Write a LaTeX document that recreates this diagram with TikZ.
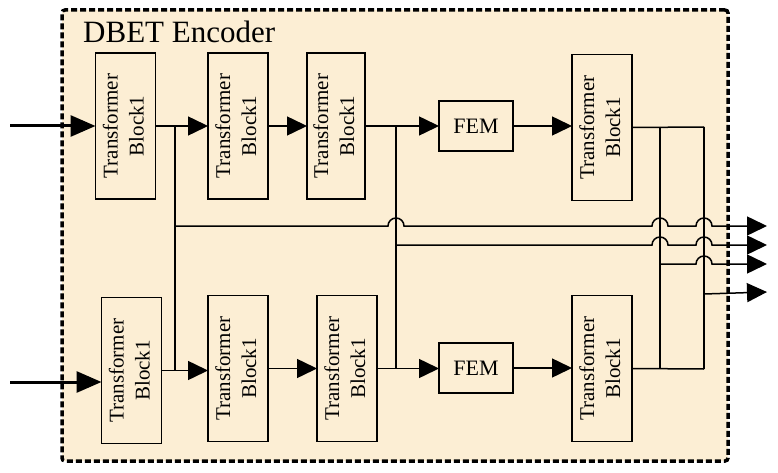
\documentclass[tikz,border=0pt]{standalone}
\usepackage{fontspec}
\setmainfont{Liberation Serif}
\usetikzlibrary{arrows.meta,calc}
\definecolor{bg}{RGB}{252,238,212}
\newcommand{\tbtext}{\rotatebox{90}{\begin{tabular}{@{}c@{}}Transformer\\Block1\end{tabular}}}
\begin{document}
\begin{tikzpicture}[x=1pt,y=-1pt,
 tblock/.style={draw,line width=1.5pt,minimum width=60pt,minimum height=146pt,inner sep=0pt,outer sep=0pt,font=\fontsize{21}{26}\selectfont},
 femblock/.style={draw,line width=2.4pt,minimum width=74pt,minimum height=50pt,inner sep=0pt,outer sep=0pt,font=\fontsize{22}{26}\selectfont},
 conn/.style={line width=1.5pt},
 arr/.style={conn,-{Triangle[length=20pt,width=19pt]}},
 inarr/.style={line width=3pt,-{Triangle[length=25pt,width=21pt]}},
 encbox/.style={draw,fill=bg,line width=3.5pt,dash pattern=on 6pt off 3pt,rounded corners=3pt,inner sep=0pt,outer sep=0pt}]
\useasboundingbox (0,0) rectangle (778,473);
\node[encbox,minimum width=666pt,minimum height=451pt] (enc) at (395,235.5) {};
\node[anchor=base west,font=\fontsize{31}{36}\selectfont,inner sep=0pt] (title) at (83,43) {DBET Encoder};
% top row
\node[tblock] (t1) at (125.5,126) {\tbtext};
\node[tblock] (t2) at (238,126) {\tbtext};
\node[tblock,minimum width=58pt] (t3) at (336,126) {\tbtext};
\node[femblock] (f1) at (476,126) {FEM};
\node[tblock] (t4) at (602,127.5) {\tbtext};
% bottom row
\node[tblock] (b1) at (131.5,370.5) {\tbtext};
\node[tblock] (b2) at (238,368.5) {\tbtext};
\node[tblock] (b3) at (347,368.5) {\tbtext};
\node[femblock] (f2) at (476,368) {FEM};
\node[tblock] (b4) at (602,368.5) {\tbtext};
% coordinates
\coordinate (in1) at (10,126);
\coordinate (in2) at (10,382);
\coordinate (j1) at (175,126);
\coordinate (j1b) at (175,370);
\coordinate (j2) at (396,126);
\coordinate (j2b) at (396,368);
\coordinate (k1) at (660,127);
\coordinate (k1b) at (660,369);
\coordinate (k2) at (704,127);
\coordinate (k2b) at (704,369);
\coordinate (o1) at (767,226);
\coordinate (o2) at (767,245);
\coordinate (o3) at (767,264);
\coordinate (o4) at (767,292);
\coordinate (s4) at (704,294);
% inputs
\draw[inarr] (in1) -- (t1.west);
\draw[inarr] (in2) -- (in2 -| b1.west);
% top chain
\draw[arr] (t1.east) -- (t2.west);
\draw[arr] (t2.east) -- (t3.west);
\draw[arr] (t3.east) -- (f1.west);
\draw[arr] (f1.east) -- (f1.east -| t4.west);
% bottom chain
\draw[arr] (b1.east) -- (b1.east -| b2.west);
\draw[arr] (b2.east) -- (b2.east -| b3.west);
\draw[arr] (b3.east) -- (b3.east -| f2.west);
\draw[arr] (f2.east) -- (f2.east -| b4.west);
% verticals
\draw[conn] (j1) -- (j1b);
\draw[conn] (j2) -- (j2b);
\draw[conn] (t4.east) -- (k2);
\draw[conn] (b4.east) -- (k2b);
\draw[conn] (k1) -- (k1b);
\draw[conn] (k2) -- (k2b);
% outputs with hops
\draw[arr] (j1 |- o1) -- ($(j2 |- o1)+(-8,0)$) arc[start angle=180,end angle=0,radius=8pt]
  -- ($(k1 |- o1)+(-8,0)$) arc[start angle=180,end angle=0,radius=8pt]
  -- ($(k2 |- o1)+(-8,0)$) arc[start angle=180,end angle=0,radius=8pt] -- (o1);
\draw[arr] (j2 |- o2) -- ($(k1 |- o2)+(-8,0)$) arc[start angle=180,end angle=0,radius=8pt]
  -- ($(k2 |- o2)+(-8,0)$) arc[start angle=180,end angle=0,radius=8pt] -- (o2);
\draw[arr] (k1 |- o3) -- ($(k2 |- o3)+(-8,0)$) arc[start angle=180,end angle=0,radius=8pt] -- (o3);
\draw[arr] (s4) -- (o4);
\end{tikzpicture}
\end{document}
